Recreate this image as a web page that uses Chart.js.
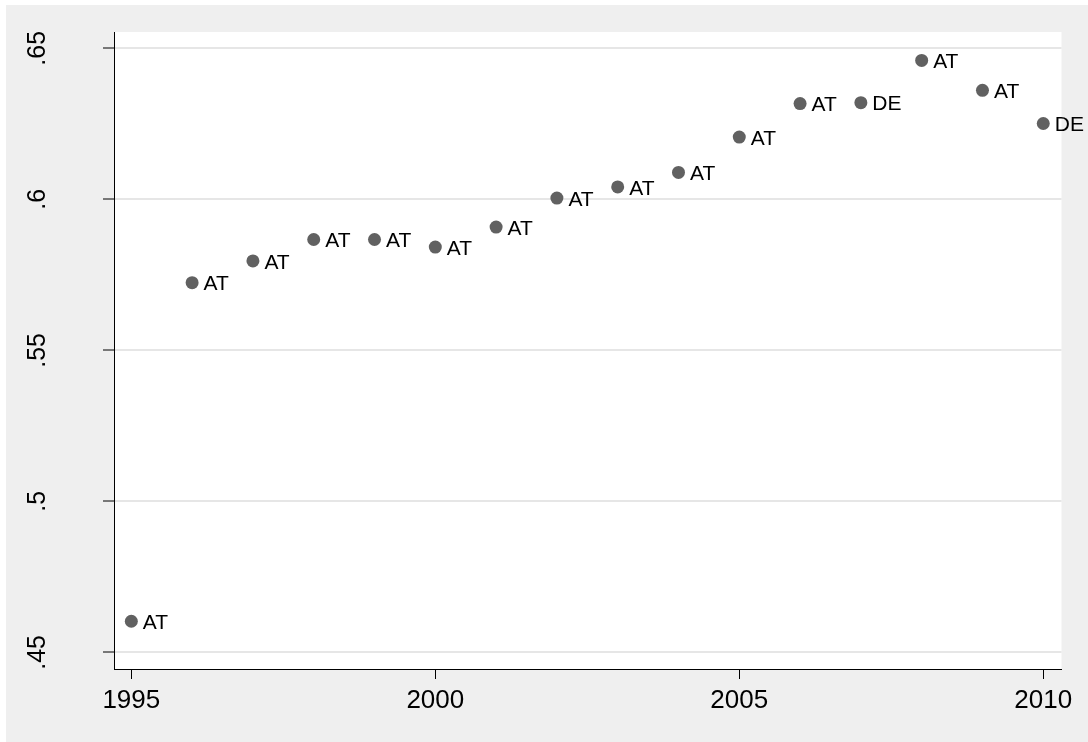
<!DOCTYPE html>
<html>
<head>
<meta charset="utf-8">
<script src="https://cdn.jsdelivr.net/npm/chart.js@4/dist/chart.umd.min.js"></script>
<style>
html,body{margin:0;padding:0;background:#fff;}
</style>
</head>
<body>
<canvas id="gp" width="1088" height="742"></canvas>
<script>
const years = [1995,1996,1997,1998,1999,2000,2001,2002,2003,2004,2005,2006,2007,2008,2009,2010];
const share = [.4603,.5724,.5796,.5867,.5867,.5842,.5908,.6004,.6041,.6089,.6206,.6317,.6320,.6460,.6361,.6251];
const country = ["AT","AT","AT","AT","AT","AT","AT","AT","AT","AT","AT","AT","DE","AT","AT","DE"];

const xTicks = [1995,2000,2005,2010];
const yTicks = [.45,.5,.55,.6,.65];
const yTickLabels = [".45",".5",".55",".6",".65"];

const FONT = "'Liberation Sans', Arial, Helvetica, sans-serif";

// grey page, white plot region
const background = {
    id: "background",
    beforeDraw(chart) {
        const {ctx, chartArea: a, width, height} = chart;
        ctx.save();
        ctx.fillStyle = "#fff";
        ctx.fillRect(0, 0, width, height);
        ctx.fillStyle = "#efefef";
        ctx.fillRect(6, 5, width - 6, height - 5);
        ctx.fillStyle = "#fff";
        ctx.fillRect(a.left, a.top, a.right - a.left, a.bottom - a.top);
        ctx.restore();
    },
};

// country code to the right of each marker
const pointLabels = {
    id: "pointLabels",
    afterDatasetsDraw(chart) {
        const ctx = chart.ctx;
        const meta = chart.getDatasetMeta(0);
        ctx.save();
        ctx.font = "21px " + FONT;
        ctx.fillStyle = "#000";
        ctx.textAlign = "left";
        ctx.textBaseline = "middle";
        meta.data.forEach((pt, i) => {
            ctx.fillText(country[i], pt.x + 11.5, pt.y + 2);
        });
        ctx.restore();
    },
};

new Chart(document.getElementById("gp"), {
    type: "scatter",
    data: {
        datasets: [{
            data: years.map((x, i) => ({x: x, y: share[i]})),
            backgroundColor: "#616161",
            borderWidth: 0,
            pointRadius: 6.5,
            pointHoverRadius: 6.5,
        }],
    },
    options: {
        responsive: false,
        animation: false,
        devicePixelRatio: 1,
        layout: {padding: {top: 32, right: 26.5, bottom: 0, left: 0}},
        plugins: {legend: {display: false}, tooltip: {enabled: false}},
        scales: {
            x: {
                type: "linear",
                min: 1994.715,
                max: 2010.3,
                afterBuildTicks: s => { s.ticks = xTicks.map(v => ({value: v})); },
                afterFit: s => { s.height = 73; },
                ticks: {
                    callback: v => String(v),
                    color: "#000",
                    font: {family: FONT, size: 26},
                    padding: 6,
                    maxRotation: 0,
                },
                grid: {drawOnChartArea: false, tickLength: 10, tickColor: "#000", tickWidth: 1},
                border: {color: "#000", width: 1},
            },
            y: {
                min: .4445,
                max: .6554,
                afterBuildTicks: s => { s.ticks = yTicks.map(v => ({value: v})); },
                // keep the wide label gap from padding the plot top and bottom
                afterFit: s => { s.width = 114; s.paddingTop = 0; s.paddingBottom = 0; },
                ticks: {
                    callback: (v, i) => yTickLabels[i],
                    color: "#000",
                    font: {family: FONT, size: 25},
                    minRotation: 90,
                    maxRotation: 90,
                    crossAlign: "center",
                    padding: 48,
                },
                grid: {color: "#e6e6e6", lineWidth: 2, tickLength: 11, tickColor: "#000", tickWidth: 1},
                border: {color: "#000", width: 1},
            },
        },
    },
    plugins: [background, pointLabels],
});
</script>
</body>
</html>
